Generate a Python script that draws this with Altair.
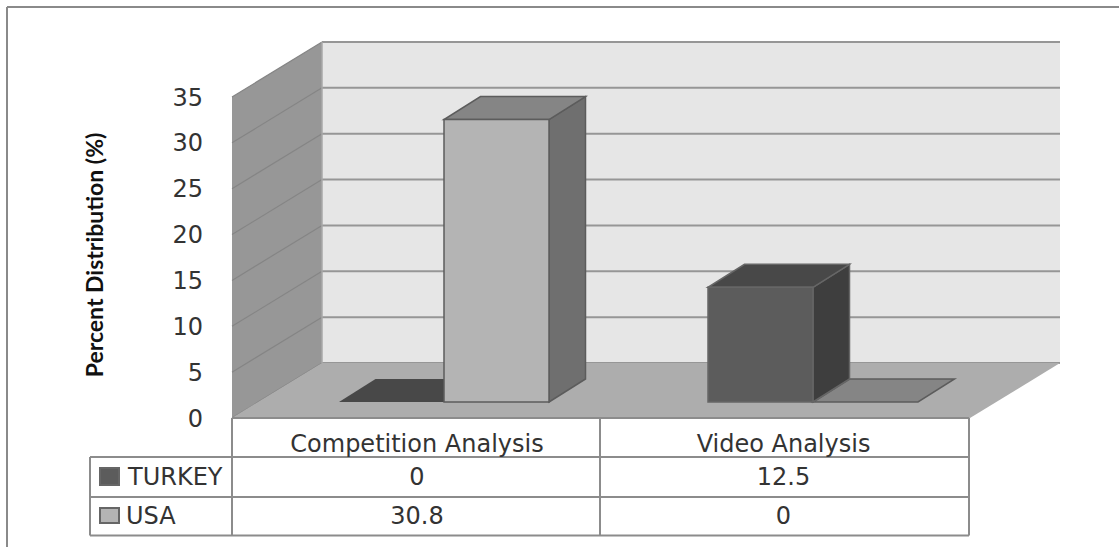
import altair as alt
import pandas as pd

# Chart values
categories = ["Competition Analysis", "Video Analysis"]
series = ["TURKEY", "USA"]
turkey = [0, 12.5]
usa = [30.8, 0]
ticks = [0, 5, 10, 15, 20, 25, 30, 35]

W, H = 1119, 547
PX_PER_UNIT = 321 / 35        # vertical pixels per percentage point
Y0 = 418                      # pixel row of the value 0 on the front edge


def up(px):
    """Vertical pixel distance expressed in percentage points."""
    return px / PX_PER_UNIT


def row(py):
    """Pixel row expressed on the value scale (for table rows and the frame)."""
    return (Y0 - py) / PX_PER_UNIT


# Oblique projection of the 3D box
WALL_X, CAT_W = 232, 369
BOX_DX, BOX_DY = 90, up(55)
BOX_W = 738
BAR_W, BAR_FIRST = 105, 107
BAR_BASE = up(16)
BAR_DX, BAR_DY = 36.5, up(23)

x_scale = alt.Scale(domain=[0, W], range=[0, W], nice=False, zero=False)
y_scale = alt.Scale(domain=[row(H), row(0)], range=[H, 0], nice=False, zero=False)


def polygon(verts, fill, stroke=None, sw=1.0):
    """Fill a convex polygon as an area between its upper and lower outline."""
    xs = sorted({v[0] for v in verts})
    rows = []
    n = len(verts)
    for x in xs:
        hits = []
        for i in range(n):
            (x1, y1), (x2, y2) = verts[i], verts[(i + 1) % n]
            if min(x1, x2) <= x <= max(x1, x2):
                if x1 == x2:
                    hits += [y1, y2]
                else:
                    hits.append(y1 + (y2 - y1) * (x - x1) / (x2 - x1))
        rows.append({"x": x, "lo": min(hits), "hi": max(hits)})
    kw = {"fill": fill, "opacity": 1}
    if stroke:
        kw.update(stroke=stroke, strokeWidth=sw, strokeJoin="miter")
    return alt.Chart(pd.DataFrame(rows)).mark_area(**kw).encode(
        x=alt.X("x:Q", scale=x_scale, axis=None),
        y=alt.Y("lo:Q", scale=y_scale, axis=None),
        y2="hi:Q",
    )


def rules(rows, color, sw):
    return alt.Chart(pd.DataFrame(rows, columns=["x", "y", "x2", "y2"])).mark_rule(
        color=color, strokeWidth=sw
    ).encode(
        x=alt.X("x:Q", scale=x_scale, axis=None),
        y=alt.Y("y:Q", scale=y_scale, axis=None),
        x2="x2:Q",
        y2="y2:Q",
    )


def labels(rows, size=24, align="center", color="#333333", font="DejaVu Sans", **kw):
    return alt.Chart(pd.DataFrame(rows, columns=["x", "y", "t"])).mark_text(
        font=font, fontSize=size, align=align, baseline="middle", color=color, **kw
    ).encode(
        x=alt.X("x:Q", scale=x_scale, axis=None),
        y=alt.Y("y:Q", scale=y_scale, axis=None),
        text="t:N",
    )


def bar(cat, ser, value, front, top, side, stroke):
    """One 3D column; a zero value leaves only its flat cap on the floor."""
    x0 = WALL_X + cat * CAT_W + BAR_FIRST + ser * BAR_W
    x1 = x0 + BAR_W
    b, t = BAR_BASE, BAR_BASE + value
    parts = []
    if value > 0:
        parts.append(polygon([(x1, b), (x1 + BAR_DX, b + BAR_DY), (x1 + BAR_DX, t + BAR_DY), (x1, t)],
                             side, stroke, 1.5))
    parts.append(polygon([(x0, t), (x1, t), (x1 + BAR_DX, t + BAR_DY), (x0 + BAR_DX, t + BAR_DY)],
                         top, stroke if value > 0 or ser == 1 else None, 1.5))
    if value > 0:
        parts.append(polygon([(x0, b), (x1, b), (x1, t), (x0, t)], front, stroke, 1.5))
    return parts


WALL_TOP = ticks[-1]
layers = [
    # Back wall, side wall and floor
    polygon([(WALL_X + BOX_DX, BOX_DY), (WALL_X + BOX_DX + BOX_W, BOX_DY),
             (WALL_X + BOX_DX + BOX_W, BOX_DY + WALL_TOP), (WALL_X + BOX_DX, BOX_DY + WALL_TOP)], "#e6e6e6"),
    rules([(WALL_X + BOX_DX, t + BOX_DY, WALL_X + BOX_DX + BOX_W, t + BOX_DY) for t in ticks], "#969696", 2),
    polygon([(WALL_X, 0), (WALL_X + BOX_DX, BOX_DY), (WALL_X + BOX_DX, BOX_DY + WALL_TOP), (WALL_X, WALL_TOP)],
            "#979797"),
    rules([(WALL_X, t, WALL_X + BOX_DX, t + BOX_DY) for t in ticks], "#858585", 1.2),
    rules([(WALL_X + BOX_DX, BOX_DY, WALL_X + BOX_DX, BOX_DY + WALL_TOP)], "#a8a8a8", 1.5),
    polygon([(WALL_X, 0), (WALL_X + BOX_W, 0), (WALL_X + BOX_W + BOX_DX, BOX_DY), (WALL_X + BOX_DX, BOX_DY)],
            "#adadad"),
]

# Columns, drawn from the front-left outward
USA_STYLE = ("#b4b4b4", "#858585", "#6f6f6f", "#5c5c5c")
TUR_STYLE = ("#5c5c5c", "#484848", "#3e3e3e", "#666666")
layers += bar(0, 0, turkey[0], *TUR_STYLE)
layers += bar(0, 1, usa[0], *USA_STYLE)
layers += bar(1, 1, usa[1], *USA_STYLE)
layers += bar(1, 0, turkey[1], *TUR_STYLE)

# Value tick labels and axis title
layers.append(labels([(203, row(418 - t * PX_PER_UNIT + 1.5), str(t)) for t in ticks], align="right"))
layers.append(labels([(96, row(255), "Percent Distribution (%)")], size=23, angle=270,
                     font="Lato", color="#111111", fontWeight="bold"))

# Data table grid
T0, T1, T2, T3 = row(418), row(457), row(497), row(535.5)
XL, X0, X1, X2, XR = 90, 232, 600, 969, 7
layers.append(rules(
    [(X0, T0, X2, T0), (XL, T1, X2, T1), (XL, T2, X2, T2), (XL, T3, X2, T3),
     (XL, T1, XL, T3), (X0, T0, X0, T3), (X1, T0, X1, T3), (X2, T0, X2, T3)],
    "#8c8c8c", 2))

# Data table text
centers = [(X0 + X1) / 2 + 1, (X1 + X2) / 2 - 1]
R0, R1, R2 = row(445), row(477.5), row(517)
layers.append(labels([(centers[i], R0, categories[i]) for i in range(2)]))
layers.append(labels([(centers[i], R1, str(turkey[i])) for i in range(2)]))
layers.append(labels([(centers[i], R2, str(usa[i])) for i in range(2)]))
layers.append(labels([(128, R1, series[0]), (126, R2, series[1])], align="left"))

# Legend keys inside the table
keys = pd.DataFrame({
    "x": [100, 100], "x2": [119, 119],
    "y": [row(468), row(508)], "y2": [row(485), row(523)],
    "f": [TUR_STYLE[0], USA_STYLE[0]],
})
layers.append(alt.Chart(keys).mark_rect(stroke="#666666", strokeWidth=2).encode(
    x=alt.X("x:Q", scale=x_scale, axis=None),
    x2="x2:Q",
    y=alt.Y("y:Q", scale=y_scale, axis=None),
    y2="y2:Q",
    fill=alt.Fill("f:N", scale=None),
))

# Chart frame, open at the right and bottom
layers.append(rules([(XR, row(7), W, row(7)), (XR, row(7), XR, row(H))], "#8a8a8a", 2))

chart = alt.layer(*layers).properties(
    width=W, height=H, padding=0, autosize=alt.AutoSizeParams(type="none"),
    background="white",
).configure_view(strokeWidth=0)

chart.save("out.html", embed_options={"renderer": "svg", "actions": False})
